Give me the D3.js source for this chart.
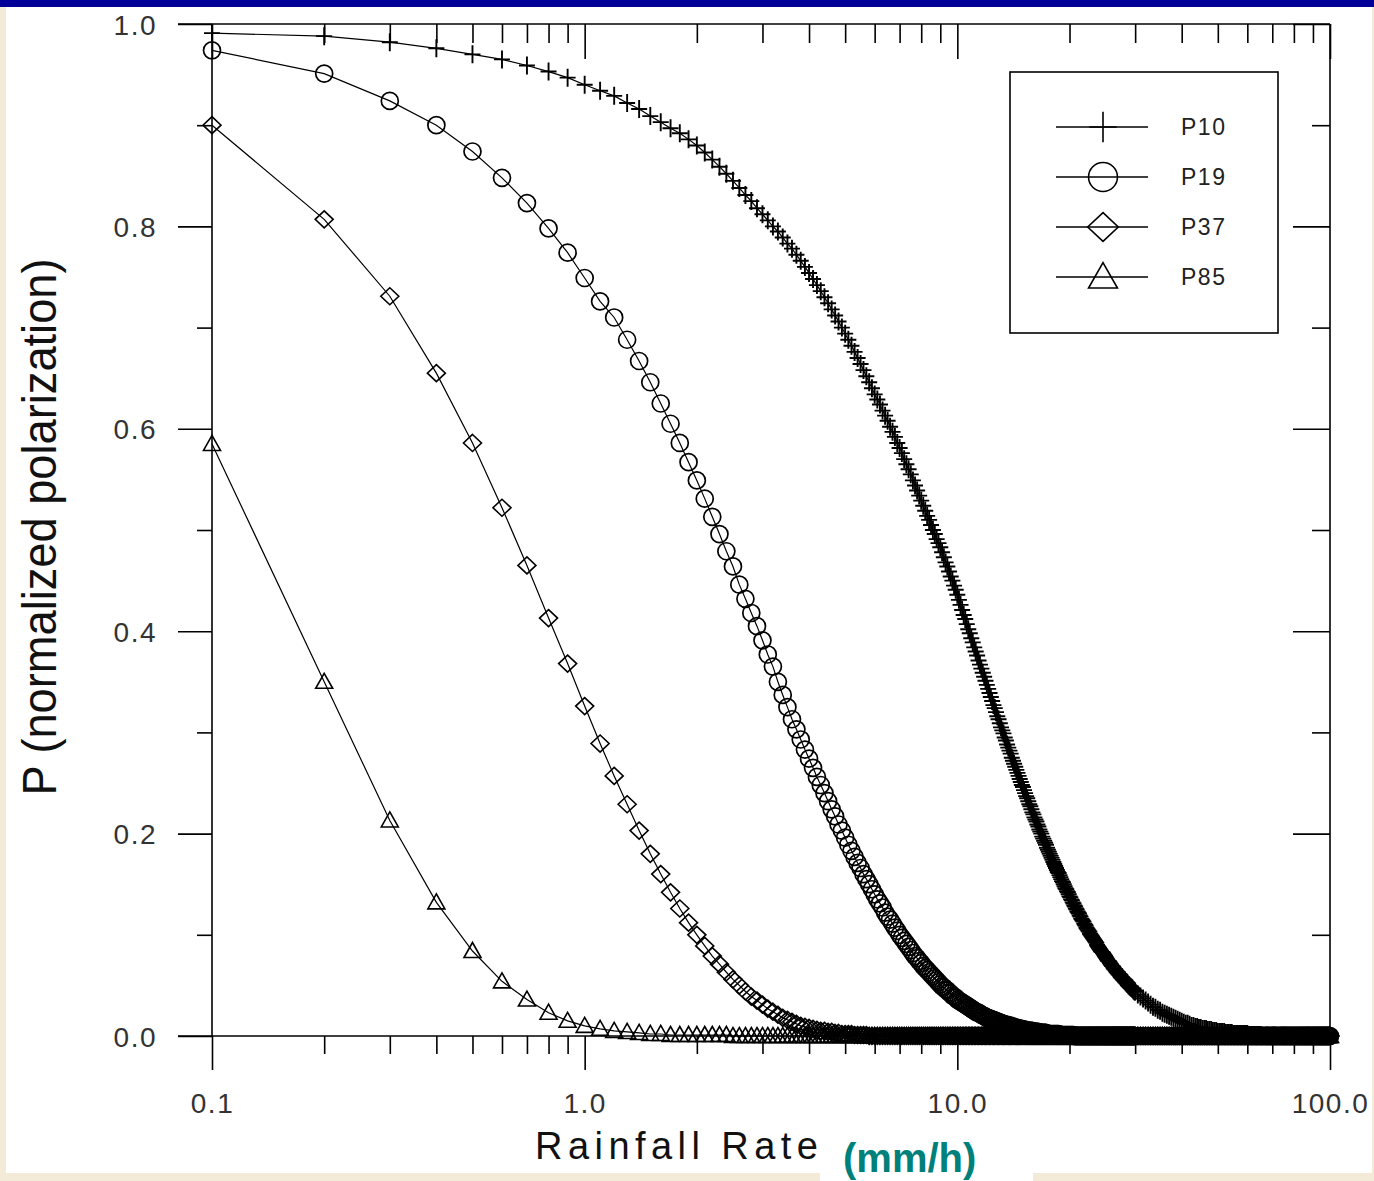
<!DOCTYPE html>
<html><head><meta charset="utf-8">
<script src="https://cdn.jsdelivr.net/npm/d3@7"></script>
<style>html,body{margin:0;padding:0;background:#f4ead8;} svg{display:block;}</style>
</head><body><svg id="c" width="1374" height="1181"></svg>
<script>
// Rainfall rate grid (mm/h)
const rainRate = [
0.1,0.2,0.3,0.4,0.5,0.6,0.7,0.8,0.9,1.0,
1.1,1.2,1.3,1.4,1.5,1.6,1.7,1.8,1.9,2.0,
2.1,2.2,2.3,2.4,2.5,2.6,2.7,2.8,2.9,3.0,
3.1,3.2,3.3,3.4,3.5,3.6,3.7,3.8,3.9,4.0,
4.1,4.2,4.3,4.4,4.5,4.6,4.7,4.8,4.9,5.0,
5.1,5.2,5.3,5.4,5.5,5.6,5.7,5.8,5.9,6.0,
6.1,6.2,6.3,6.4,6.5,6.6,6.7,6.8,6.9,7.0,
7.1,7.2,7.3,7.4,7.5,7.6,7.7,7.8,7.9,8.0,
8.1,8.2,8.3,8.4,8.5,8.6,8.7,8.8,8.9,9.0,
9.1,9.2,9.3,9.4,9.5,9.6,9.7,9.8,9.9,10.0,
10.1,10.2,10.3,10.4,10.5,10.6,10.7,10.8,10.9,11.0,
11.1,11.2,11.3,11.4,11.5,11.6,11.7,11.8,11.9,12.0,
12.1,12.2,12.3,12.4,12.5,12.6,12.7,12.8,12.9,13.0,
13.1,13.2,13.3,13.4,13.5,13.6,13.7,13.8,13.9,14.0,
14.1,14.2,14.3,14.4,14.5,14.6,14.7,14.8,14.9,15.0,
15.1,15.2,15.3,15.4,15.5,15.6,15.7,15.8,15.9,16.0,
16.1,16.2,16.3,16.4,16.5,16.6,16.7,16.8,16.9,17.0,
17.1,17.2,17.3,17.4,17.5,17.6,17.7,17.8,17.9,18.0,
18.1,18.2,18.3,18.4,18.5,18.6,18.7,18.8,18.9,19.0,
19.1,19.2,19.3,19.4,19.5,19.6,19.7,19.8,19.9,20.0,
20.1,20.2,20.3,20.4,20.5,20.6,20.7,20.8,20.9,21.0,
21.1,21.2,21.3,21.4,21.5,21.6,21.7,21.8,21.9,22.0,
22.1,22.2,22.3,22.4,22.5,22.6,22.7,22.8,22.9,23.0,
23.1,23.2,23.3,23.4,23.5,23.6,23.7,23.8,23.9,24.0,
24.1,24.2,24.3,24.4,24.5,24.6,24.7,24.8,24.9,25.0,
25.1,25.2,25.3,25.4,25.5,25.6,25.7,25.8,25.9,26.0,
26.1,26.2,26.3,26.4,26.5,26.6,26.7,26.8,26.9,27.0,
27.1,27.2,27.3,27.4,27.5,27.6,27.7,27.8,27.9,28.0,
28.1,28.2,28.3,28.4,28.5,28.6,28.7,28.8,28.9,29.0,
29.1,29.2,29.3,29.4,29.5,29.6,29.7,29.8,29.9,30.0,
30.5,31,31.5,32,32.5,33,33.5,34,34.5,35,
35.5,36,36.5,37,37.5,38,38.5,39,39.5,40,
40.5,41,41.5,42,42.5,43,43.5,44,44.5,45,
45.5,46,46.5,47,47.5,48,48.5,49,49.5,50,
50.5,51,51.5,52,52.5,53,53.5,54,54.5,55,
55.5,56,56.5,57,57.5,58,58.5,59,59.5,60,
60.5,61,61.5,62,62.5,63,63.5,64,64.5,65,
65.5,66,66.5,67,67.5,68,68.5,69,69.5,70,
70.5,71,71.5,72,72.5,73,73.5,74,74.5,75,
75.5,76,76.5,77,77.5,78,78.5,79,79.5,80,
80.5,81,81.5,82,82.5,83,83.5,84,84.5,85,
85.5,86,86.5,87,87.5,88,88.5,89,89.5,90,
90.5,91,91.5,92,92.5,93,93.5,94,94.5,95,
95.5,96,96.5,97,97.5,98,98.5,99,99.5,100
];

const p10 = [
0.991,0.988,0.982,0.976,0.970,0.965,0.959,0.953,0.947,0.940,
0.934,0.929,0.922,0.916,0.909,0.903,0.897,0.892,0.886,0.880,
0.873,0.866,0.859,0.852,0.845,0.838,0.831,0.825,0.818,0.812,
0.806,0.800,0.795,0.789,0.783,0.778,0.772,0.766,0.760,0.754,
0.748,0.742,0.736,0.730,0.724,0.718,0.712,0.706,0.700,0.694,
0.688,0.682,0.676,0.670,0.664,0.658,0.652,0.646,0.640,0.634,
0.629,0.624,0.618,0.613,0.608,0.602,0.597,0.592,0.586,0.581,
0.576,0.570,0.565,0.560,0.555,0.549,0.544,0.539,0.534,0.529,
0.524,0.519,0.514,0.510,0.505,0.500,0.496,0.491,0.487,0.483,
0.478,0.473,0.468,0.464,0.459,0.454,0.450,0.445,0.441,0.436,
0.431,0.426,0.421,0.416,0.412,0.407,0.402,0.398,0.393,0.389,
0.384,0.380,0.376,0.371,0.367,0.363,0.359,0.355,0.351,0.347,
0.343,0.339,0.335,0.331,0.327,0.324,0.320,0.316,0.313,0.309,
0.305,0.302,0.299,0.295,0.292,0.288,0.285,0.282,0.279,0.275,
0.272,0.269,0.266,0.263,0.260,0.257,0.254,0.251,0.248,0.246,
0.243,0.240,0.237,0.235,0.232,0.229,0.227,0.224,0.221,0.219,
0.216,0.214,0.212,0.209,0.207,0.204,0.202,0.200,0.197,0.195,
0.193,0.191,0.189,0.186,0.184,0.182,0.180,0.178,0.176,0.174,
0.172,0.170,0.168,0.166,0.164,0.162,0.161,0.159,0.157,0.155,
0.153,0.152,0.150,0.148,0.146,0.145,0.143,0.142,0.140,0.138,
0.137,0.135,0.134,0.132,0.131,0.129,0.128,0.126,0.125,0.123,
0.122,0.121,0.119,0.118,0.116,0.115,0.114,0.113,0.111,0.110,
0.109,0.107,0.106,0.105,0.104,0.103,0.101,0.100,0.099,0.098,
0.097,0.096,0.095,0.094,0.093,0.092,0.090,0.089,0.088,0.087,
0.086,0.085,0.084,0.083,0.083,0.082,0.081,0.080,0.079,0.078,
0.077,0.076,0.075,0.074,0.074,0.073,0.072,0.071,0.070,0.069,
0.069,0.068,0.067,0.066,0.066,0.065,0.064,0.063,0.063,0.062,
0.061,0.061,0.060,0.059,0.058,0.058,0.057,0.056,0.056,0.055,
0.055,0.054,0.053,0.053,0.052,0.052,0.051,0.050,0.050,0.049,
0.049,0.048,0.048,0.047,0.047,0.046,0.045,0.045,0.044,0.044,
0.041,0.039,0.037,0.035,0.033,0.031,0.029,0.028,0.026,0.025,
0.023,0.022,0.021,0.020,0.019,0.018,0.017,0.016,0.015,0.014,
0.013,0.012,0.012,0.011,0.010,0.010,0.009,0.009,0.008,0.008,
0.007,0.007,0.007,0.006,0.006,0.006,0.005,0.005,0.005,0.004,
0.004,0.004,0.004,0.004,0.003,0.003,0.003,0.003,0.003,0.002,
0.002,0.002,0.002,0.002,0.002,0.002,0.002,0.002,0.002,0.002,
0.001,0.001,0.001,0.001,0.001,0.001,0.001,0.001,0.001,0.001,
0,0,0,0,0,0,0,0,0,0,
0,0,0,0,0,0,0,0,0,0,
0,0,0,0,0,0,0,0,0,0,
0,0,0,0,0,0,0,0,0,0,
0,0,0,0,0,0,0,0,0,0,
0,0,0,0,0,0,0,0,0,0,
0,0,0,0,0,0,0,0,0,0
];

const p19 = [
0.974,0.951,0.924,0.900,0.874,0.848,0.823,0.798,0.774,0.749,
0.726,0.710,0.688,0.667,0.646,0.625,0.605,0.586,0.567,0.549,
0.531,0.513,0.496,0.479,0.464,0.446,0.432,0.418,0.405,0.391,
0.377,0.365,0.350,0.337,0.325,0.313,0.303,0.293,0.283,0.274,
0.265,0.256,0.248,0.240,0.232,0.224,0.217,0.209,0.203,0.196,
0.189,0.183,0.177,0.171,0.166,0.160,0.155,0.150,0.145,0.140,
0.135,0.131,0.127,0.122,0.118,0.115,0.111,0.107,0.104,0.100,
0.097,0.094,0.091,0.088,0.085,0.082,0.079,0.077,0.074,0.072,
0.069,0.067,0.065,0.063,0.061,0.059,0.057,0.055,0.053,0.051,
0.049,0.048,0.046,0.045,0.043,0.042,0.040,0.039,0.038,0.036,
0.035,0.034,0.033,0.032,0.031,0.030,0.029,0.028,0.027,0.026,
0.025,0.024,0.023,0.023,0.022,0.021,0.020,0.020,0.019,0.018,
0.018,0.017,0.017,0.016,0.016,0.015,0.015,0.014,0.014,0.013,
0.013,0.012,0.012,0.011,0.011,0.011,0.010,0.010,0.010,0.009,
0.009,0.009,0.008,0.008,0.008,0.007,0.007,0.007,0.007,0.006,
0.006,0.006,0.006,0.005,0.005,0.005,0.005,0.005,0.005,0.004,
0.004,0.004,0.004,0.004,0.004,0.003,0.003,0.003,0.003,0.003,
0.003,0.003,0.003,0.002,0.002,0.002,0.002,0.002,0.002,0.002,
0.002,0.002,0.002,0.002,0.002,0.002,0.002,0.001,0.001,0.001,
0.001,0.001,0.001,0.001,0.001,0.001,0.001,0.001,0.001,0.001,
0.001,0.001,0.001,0.001,0.001,0,0,0,0,0,
0,0,0,0,0,0,0,0,0,0,
0,0,0,0,0,0,0,0,0,0,
0,0,0,0,0,0,0,0,0,0,
0,0,0,0,0,0,0,0,0,0,
0,0,0,0,0,0,0,0,0,0,
0,0,0,0,0,0,0,0,0,0,
0,0,0,0,0,0,0,0,0,0,
0,0,0,0,0,0,0,0,0,0,
0,0,0,0,0,0,0,0,0,0,
0,0,0,0,0,0,0,0,0,0,
0,0,0,0,0,0,0,0,0,0,
0,0,0,0,0,0,0,0,0,0,
0,0,0,0,0,0,0,0,0,0,
0,0,0,0,0,0,0,0,0,0,
0,0,0,0,0,0,0,0,0,0,
0,0,0,0,0,0,0,0,0,0,
0,0,0,0,0,0,0,0,0,0,
0,0,0,0,0,0,0,0,0,0,
0,0,0,0,0,0,0,0,0,0,
0,0,0,0,0,0,0,0,0,0,
0,0,0,0,0,0,0,0,0,0,
0,0,0,0,0,0,0,0,0,0,
0,0,0,0,0,0,0,0,0,0
];

const p37 = [
0.900,0.807,0.731,0.655,0.586,0.522,0.465,0.413,0.368,0.326,
0.289,0.257,0.229,0.203,0.180,0.160,0.142,0.126,0.112,0.100,
0.089,0.079,0.071,0.063,0.056,0.050,0.044,0.039,0.035,0.031,
0.027,0.024,0.021,0.018,0.016,0.014,0.012,0.010,0.009,0.008,
0.007,0.006,0.005,0.005,0.004,0.004,0.003,0.003,0.002,0.002,
0.002,0.002,0.001,0.001,0.001,0.001,0.001,0,0,0,
0,0,0,0,0,0,0,0,0,0,
0,0,0,0,0,0,0,0,0,0,
0,0,0,0,0,0,0,0,0,0,
0,0,0,0,0,0,0,0,0,0,
0,0,0,0,0,0,0,0,0,0,
0,0,0,0,0,0,0,0,0,0,
0,0,0,0,0,0,0,0,0,0,
0,0,0,0,0,0,0,0,0,0,
0,0,0,0,0,0,0,0,0,0,
0,0,0,0,0,0,0,0,0,0,
0,0,0,0,0,0,0,0,0,0,
0,0,0,0,0,0,0,0,0,0,
0,0,0,0,0,0,0,0,0,0,
0,0,0,0,0,0,0,0,0,0,
0,0,0,0,0,0,0,0,0,0,
0,0,0,0,0,0,0,0,0,0,
0,0,0,0,0,0,0,0,0,0,
0,0,0,0,0,0,0,0,0,0,
0,0,0,0,0,0,0,0,0,0,
0,0,0,0,0,0,0,0,0,0,
0,0,0,0,0,0,0,0,0,0,
0,0,0,0,0,0,0,0,0,0,
0,0,0,0,0,0,0,0,0,0,
0,0,0,0,0,0,0,0,0,0,
0,0,0,0,0,0,0,0,0,0,
0,0,0,0,0,0,0,0,0,0,
0,0,0,0,0,0,0,0,0,0,
0,0,0,0,0,0,0,0,0,0,
0,0,0,0,0,0,0,0,0,0,
0,0,0,0,0,0,0,0,0,0,
0,0,0,0,0,0,0,0,0,0,
0,0,0,0,0,0,0,0,0,0,
0,0,0,0,0,0,0,0,0,0,
0,0,0,0,0,0,0,0,0,0,
0,0,0,0,0,0,0,0,0,0,
0,0,0,0,0,0,0,0,0,0,
0,0,0,0,0,0,0,0,0,0,
0,0,0,0,0,0,0,0,0,0
];

const p85 = [
0.585,0.350,0.213,0.132,0.084,0.054,0.036,0.023,0.015,0.010,
0.007,0.005,0.004,0.003,0.002,0.002,0.001,0.001,0.001,0.001,
0.001,0.001,0.001,0.001,0,0,0,0,0,0,
0,0,0,0,0,0,0,0,0,0,
0,0,0,0,0,0,0,0,0,0,
0,0,0,0,0,0,0,0,0,0,
0,0,0,0,0,0,0,0,0,0,
0,0,0,0,0,0,0,0,0,0,
0,0,0,0,0,0,0,0,0,0,
0,0,0,0,0,0,0,0,0,0,
0,0,0,0,0,0,0,0,0,0,
0,0,0,0,0,0,0,0,0,0,
0,0,0,0,0,0,0,0,0,0,
0,0,0,0,0,0,0,0,0,0,
0,0,0,0,0,0,0,0,0,0,
0,0,0,0,0,0,0,0,0,0,
0,0,0,0,0,0,0,0,0,0,
0,0,0,0,0,0,0,0,0,0,
0,0,0,0,0,0,0,0,0,0,
0,0,0,0,0,0,0,0,0,0,
0,0,0,0,0,0,0,0,0,0,
0,0,0,0,0,0,0,0,0,0,
0,0,0,0,0,0,0,0,0,0,
0,0,0,0,0,0,0,0,0,0,
0,0,0,0,0,0,0,0,0,0,
0,0,0,0,0,0,0,0,0,0,
0,0,0,0,0,0,0,0,0,0,
0,0,0,0,0,0,0,0,0,0,
0,0,0,0,0,0,0,0,0,0,
0,0,0,0,0,0,0,0,0,0,
0,0,0,0,0,0,0,0,0,0,
0,0,0,0,0,0,0,0,0,0,
0,0,0,0,0,0,0,0,0,0,
0,0,0,0,0,0,0,0,0,0,
0,0,0,0,0,0,0,0,0,0,
0,0,0,0,0,0,0,0,0,0,
0,0,0,0,0,0,0,0,0,0,
0,0,0,0,0,0,0,0,0,0,
0,0,0,0,0,0,0,0,0,0,
0,0,0,0,0,0,0,0,0,0,
0,0,0,0,0,0,0,0,0,0,
0,0,0,0,0,0,0,0,0,0,
0,0,0,0,0,0,0,0,0,0,
0,0,0,0,0,0,0,0,0,0
];

const seriesNames = ["P10", "P19", "P37", "P85"];
const seriesMarkers = ["cross", "circle", "diamond", "triangle"];
const xTickValues = [0.1, 1, 10, 100];
const xTickLabels = ["0.1", "1.0", "10.0", "100.0"];
const yTickValues = [0, 0.2, 0.4, 0.6, 0.8, 1.0];
const yTickLabels = ["0.0", "0.2", "0.4", "0.6", "0.8", "1.0"];
const yMinorValues = [0.1, 0.3, 0.5, 0.7, 0.9];
const xTitle = "Rainfall Rate";
const xUnit = "(mm/h)";
const yTitle = "P (normalized polarization)";

const seriesValues = [p10, p19, p37, p85];
const FONT = "'Liberation Sans', Arial, Helvetica, sans-serif";

const svg = d3.select("#c");
const W = 1374, H = 1181;
svg.append("rect").attr("width", W).attr("height", H).attr("fill", "#f4ead8");
svg.append("rect").attr("x", 6).attr("y", 7).attr("width", 1366).attr("height", 1166).attr("fill", "#fff");
svg.append("rect").attr("x", 0).attr("y", 0).attr("width", W).attr("height", 7).attr("fill", "#000099");
svg.append("rect").attr("x", 820).attr("y", 1120).attr("width", 213).attr("height", 61).attr("fill", "#fff");

const x = d3.scaleLog().domain([0.1, 100]).range([212, 1330]);
const y = d3.scaleLinear().domain([0, 1]).range([1036, 24]);

const xMinor = x.ticks().filter(v => !xTickValues.some(m => Math.abs(v / m - 1) < 1e-6));

function clean(g) {
  g.select(".domain").remove();
  g.selectAll(".tick line").attr("stroke", "#000").attr("stroke-width", 1.6);
}
function styleLabels(g) {
  g.selectAll(".tick text").attr("font-size", 28).attr("fill", "#333")
    .attr("font-family", FONT).attr("letter-spacing", "1.5px");
}

const x0 = x.range()[0], x1 = x.range()[1];
const yBot = y(0), yTop = y(1);

svg.append("g").attr("transform", `translate(0,${yBot})`)
  .call(d3.axisBottom(x).tickValues(xTickValues).tickSize(34).tickPadding(23).tickFormat((d, i) => xTickLabels[i]))
  .call(clean).call(styleLabels);
svg.append("g").attr("transform", `translate(0,${yBot})`)
  .call(d3.axisBottom(x).tickValues(xMinor).tickSize(18).tickFormat(""))
  .call(clean);
svg.append("g").attr("transform", `translate(0,${yTop})`)
  .call(d3.axisBottom(x).tickValues(xTickValues).tickSize(35).tickFormat(""))
  .call(clean);
svg.append("g").attr("transform", `translate(0,${yTop})`)
  .call(d3.axisBottom(x).tickValues(xMinor).tickSize(19).tickFormat(""))
  .call(clean);
svg.append("g").attr("transform", `translate(${x0},0)`)
  .call(d3.axisLeft(y).tickValues(yTickValues).tickSize(34).tickPadding(21).tickFormat((d, i) => yTickLabels[i]))
  .call(clean).call(styleLabels)
  .selectAll(".tick text").attr("dy", "0.36em");
svg.append("g").attr("transform", `translate(${x0},0)`)
  .call(d3.axisLeft(y).tickValues(yMinorValues).tickSize(15).tickFormat(""))
  .call(clean);
svg.append("g").attr("transform", `translate(${x1},0)`)
  .call(d3.axisLeft(y).tickValues(yTickValues).tickSize(37).tickFormat(""))
  .call(clean);
svg.append("g").attr("transform", `translate(${x1},0)`)
  .call(d3.axisLeft(y).tickValues(yMinorValues).tickSize(18).tickFormat(""))
  .call(clean);

const frame = svg.append("g").attr("stroke", "#000").attr("stroke-width", 1.6);
frame.append("line").attr("x1", x0 - 34).attr("x2", x1).attr("y1", yTop).attr("y2", yTop);
frame.append("line").attr("x1", x0 - 34).attr("x2", x1).attr("y1", yBot).attr("y2", yBot);
frame.append("line").attr("x1", x0).attr("x2", x0).attr("y1", yTop).attr("y2", yBot);
frame.append("line").attr("x1", x1).attr("x2", x1).attr("y1", yTop).attr("y2", yBot);

function markerPath(type, s) {
  if (type === "cross") return `M${-8*s},0H${8*s}M0,${-9*s}V${9*s}`;
  if (type === "circle") { const r = 8.5 * s; return `M${r},0A${r},${r} 0 1,1 ${-r},0A${r},${r} 0 1,1 ${r},0Z`; }
  if (type === "diamond") return `M0,${-8.5*s}L${9*s},0L0,${8.5*s}L${-9*s},0Z`;
  if (type === "triangle") return `M0,${-8.5*s}L${8.5*s},${6.5*s}L${-8.5*s},${6.5*s}Z`;
  return "";
}
const markerStroke = { cross: 1.9, circle: 1.7, diamond: 1.6, triangle: 1.6 };

const line = d3.line().x(d => x(d.r)).y(d => y(d.p));
const n = rainRate.length;
const plot = svg.append("g");
seriesValues.forEach((vals, si) => {
  const pts = [];
  for (let i = 0; i < Math.min(n, vals.length); i++) pts.push({ r: rainRate[i], p: vals[i] });
  const g = plot.append("g");
  g.append("path").datum(pts).attr("d", line).attr("fill", "none").attr("stroke", "#000").attr("stroke-width", 1.2);
  g.selectAll("path.m").data(pts).join("path").attr("class", "m")
    .attr("transform", d => `translate(${x(d.r)},${y(d.p)})`)
    .attr("d", markerPath(seriesMarkers[si], 1))
    .attr("fill", "none").attr("stroke", "#000").attr("stroke-width", markerStroke[seriesMarkers[si]]);
});

const lg = svg.append("g");
lg.append("rect").attr("x", 1010).attr("y", 72).attr("width", 268).attr("height", 261)
  .attr("fill", "#fff").attr("stroke", "#000").attr("stroke-width", 1.6);
const legendY = d3.scalePoint().domain(seriesNames).range([127, 277]);
seriesNames.forEach((name, i) => {
  const yy = legendY(name);
  lg.append("line").attr("x1", 1056).attr("x2", 1148).attr("y1", yy).attr("y2", yy).attr("stroke", "#000").attr("stroke-width", 1.6);
  lg.append("path").attr("transform", `translate(1103,${yy})`).attr("d", markerPath(seriesMarkers[i], 1.7))
    .attr("fill", "none").attr("stroke", "#000").attr("stroke-width", 1.6);
  lg.append("text").attr("x", 1181).attr("y", yy).attr("dy", "0.36em").text(name)
    .attr("font-family", FONT).attr("font-size", 23).attr("letter-spacing", "1.5px").attr("fill", "#222");
});

svg.append("text").attr("x", 535).attr("y", 1159).text(xTitle)
  .attr("font-family", FONT).attr("font-size", 38).attr("fill", "#111")
  .attr("textLength", 283).attr("lengthAdjust", "spacing");
svg.append("text").attr("x", 843).attr("y", 1172).text(xUnit)
  .attr("font-family", FONT).attr("font-size", 40).attr("font-weight", "bold").attr("fill", "#00807a");
svg.append("text").attr("transform", "translate(56,527) rotate(-90)").attr("text-anchor", "middle").text(yTitle)
  .attr("font-family", FONT).attr("font-size", 48).attr("fill", "#111")
  .attr("textLength", 537).attr("lengthAdjust", "spacingAndGlyphs");
</script>
</body></html>
